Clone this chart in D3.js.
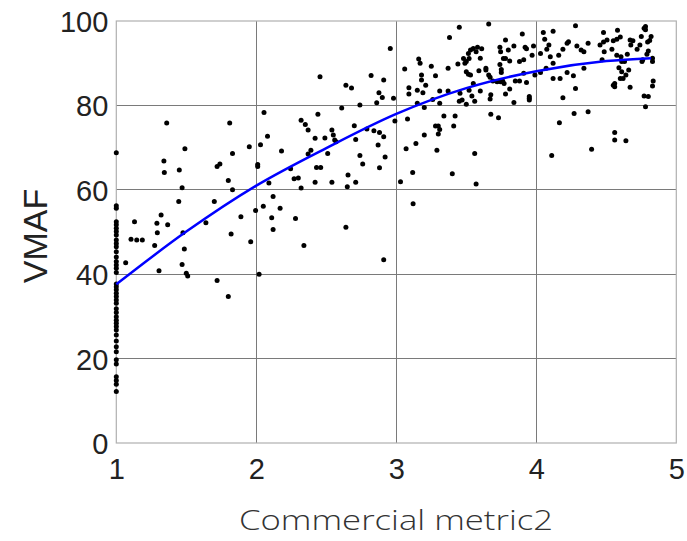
<!DOCTYPE html>
<html><head><meta charset="utf-8">
<script src="https://cdn.jsdelivr.net/npm/d3@7"></script>
<style>body{margin:0;background:#fff}svg{display:block}</style>
</head><body><div id="chart"></div>
<script>
const xTicks = [1, 2, 3, 4, 5];
const yTicks = [0, 20, 40, 60, 80, 100];
const xLabel = "Commercial metric2";
const yLabel = "VMAF";

// column of points at metric2 = 1
const colVmaf = [68.8,56.2,55.6,52.4,51.7,50.9,50.1,49.3,48.1,47.3,46.5,45.3,44.1,43.0,42.2,41.4,40.4,37.7,37.0,36.3,35.5,34.7,33.9,33.1,31.8,30.9,29.9,29.1,28.4,27.6,26.8,25.6,24.2,22.8,21.6,19.7,18.7,15.7,14.8,13.9,12.2];

const pointsA = [[1.067,42.7],[1.13,52.4],[1.105,48.3],[1.146,48.1],[1.186,48.1],[1.36,75.8],[1.34,66.8],[1.343,64.1],[1.32,54.0],[1.29,52.1],[1.367,51.7],[1.293,49.8],[1.274,46.8],[1.305,40.8],[1.49,69.7],[1.45,64.7],[1.47,60.5],[1.446,57.2],[1.476,49.8],[1.486,46.0],[1.47,42.3],[1.50,40.2],[1.51,39.6],[1.72,38.5],[1.80,34.7],[1.81,75.8],[1.83,68.6],[1.72,65.5],[1.74,66.1],[1.80,62.2],[1.83,60.0],[1.70,57.2],[1.64,52.2],[1.82,49.5],[2.02,40.0]];

const pointsB = [[2.455,86.8],[2.82,87.1],[2.64,84.8],[2.68,84.1],[2.74,80.1],[2.61,79.4],[2.055,78.3],[2.44,77.9],[2.32,76.5],[2.35,75.5],[2.37,74.2],[2.54,74.2],[2.55,73.0],[2.56,71.8],[2.57,71.4],[2.70,75.2],[2.71,71.9],[2.79,74.4],[2.84,74.0],[2.08,72.7],[2.03,70.7],[1.95,70.2],[2.42,72.2],[2.49,72.3],[2.39,69.4],[2.37,68.5],[2.51,68.6],[2.18,69.2],[2.74,68.1],[2.76,66.1],[2.01,66.0],[2.01,65.5],[2.245,65.0],[2.43,65.3],[2.46,65.3],[2.655,63.5],[2.65,60.7],[2.71,61.8],[2.54,61.8],[2.42,61.8],[2.27,62.6],[2.30,62.8],[2.32,60.4],[2.09,61.6],[2.12,58.4],[2.05,56.1],[2.17,55.6],[1.995,55.1],[1.89,53.6],[2.11,53.4],[2.28,53.2],[2.12,50.6],[2.64,51.1],[1.96,47.7],[2.34,46.8],[2.91,43.4],[3.117,64.1],[3.03,61.9],[3.40,63.8],[3.57,61.4],[3.12,56.7],[2.88,65.2]];

const pointsC = [[2.957,93.5],[2.91,86.0],[2.876,83.0],[2.90,81.9],[2.86,80.6],[2.98,81.7],[2.99,76.3],[2.88,73.6],[2.91,72.6],[2.87,70.6],[2.92,67.8],[3.45,98.5],[3.66,99.3],[3.38,96.1],[3.06,88.6],[3.16,91.0],[3.17,90.0],[3.25,89.3],[3.18,87.2],[3.28,87.0],[3.18,86.0],[3.09,84.2],[3.15,83.6],[3.21,84.8],[3.19,83.0],[3.09,82.7],[3.31,83.4],[3.37,88.8],[3.44,89.8],[3.37,83.4],[3.26,81.4],[3.31,80.5],[3.15,80.5],[3.20,79.5],[3.08,76.8],[3.34,77.5],[3.42,77.5],[3.28,75.1],[3.30,75.1],[3.31,74.3],[3.41,75.1],[3.30,73.2],[3.20,73.0],[3.14,71.0],[3.07,69.7],[3.29,69.4],[3.56,68.6],[3.455,82.9],[3.45,81.0],[3.47,81.3],[3.50,80.3],[3.52,83.6],[3.54,82.2],[3.56,81.0],[3.60,83.4],[3.55,85.2],[3.515,87.4],[3.53,87.2],[3.50,88.0],[3.59,88.2],[3.64,88.8],[3.64,88.4],[3.66,87.2],[3.67,86.7],[3.69,85.8],[3.48,91.1],[3.50,90.4],[3.49,90.0],[3.52,91.1],[3.53,93.1],[3.55,93.5],[3.58,93.8],[3.61,93.4],[3.60,91.2],[3.57,92.7],[3.515,92.3],[3.74,93.8],[3.745,92.7],[3.78,95.5],[3.80,93.1],[3.84,94.1],[3.765,91.1],[3.78,91.1],[3.81,90.5],[3.74,89.7],[3.75,88.5],[3.75,87.8],[3.76,85.8],[3.745,85.6],[3.77,85.2],[3.72,85.6],[3.81,83.9],[3.78,82.7],[3.85,85.8],[3.88,85.8],[3.90,96.9],[3.92,93.8],[3.93,93.4],[3.91,90.8],[3.88,90.4],[3.91,87.6],[3.93,85.4],[3.95,81.7],[3.84,80.7],[3.675,82.5],[3.67,81.5],[3.675,77.9],[3.73,77.1]];

const pointsD = [[4.28,98.9],[4.05,97.3],[4.12,97.6],[4.06,95.7],[4.09,94.3],[4.075,93.3],[4.03,92.3],[3.98,94.1],[3.97,91.9],[4.10,91.5],[4.16,91.9],[4.19,93.3],[4.22,94.7],[4.23,95.1],[4.12,90.0],[4.07,88.8],[3.99,87.2],[4.03,87.8],[3.95,82.1],[3.95,81.3],[4.12,86.4],[4.17,86.4],[4.22,87.8],[4.265,87.0],[4.28,84.0],[4.19,81.8],[4.29,94.1],[4.32,93.1],[4.34,92.7],[4.37,94.7],[4.34,88.8],[4.48,97.3],[4.58,97.8],[4.455,94.3],[4.48,95.0],[4.505,95.5],[4.485,92.7],[4.54,93.3],[4.55,95.3],[4.575,95.7],[4.60,96.2],[4.47,90.8],[4.575,91.9],[4.605,91.5],[4.61,90.4],[4.63,90.4],[4.59,88.9],[4.61,88.0],[4.64,87.2],[4.62,86.4],[4.60,86.4],[4.66,88.4],[4.65,92.1],[4.56,85.2],[4.55,84.8],[4.56,84.4],[4.67,84.3],[4.67,95.5],[4.69,95.3],[4.675,94.3],[4.72,93.3],[4.74,94.3],[4.75,96.3],[4.77,98.3],[4.78,98.7],[4.78,97.9],[4.795,95.0],[4.81,95.4],[4.82,96.3],[4.80,92.9],[4.79,92.1],[4.76,90.8],[4.755,90.4],[4.83,91.2],[4.83,90.4],[4.835,85.8],[4.83,84.6],[4.77,82.2],[4.80,82.1],[4.78,79.7],[4.27,78.1],[4.37,78.5],[4.165,75.9],[4.11,68.1],[4.395,69.6],[4.56,73.6],[4.56,71.8],[4.64,71.6]];

// fitted curve
const fitX = [1, 1.5, 2, 2.5, 3, 3.5, 4, 4.5, 4.82];
const fitY = [37.6, 50.1, 61.0, 69.9, 78.0, 84.1, 88.1, 90.5, 91.2];

const W = 687, H = 541;
const L = 116.3, R = 676.3, T = 21, B = 443;

const points = colVmaf.map(v => [1, v]).concat(pointsA, pointsB, pointsC, pointsD);

const svg = d3.select("#chart").append("svg").attr("width", W).attr("height", H);
const x = d3.scaleLinear().domain([1, 5]).range([L, R]);
const y = d3.scaleLinear().domain([0, 100]).range([B, T]);

// grid
const grid = svg.append("g");
grid.selectAll("line.v").data(xTicks.slice(1, -1)).join("line")
  .attr("x1", d => x(d)).attr("x2", d => x(d)).attr("y1", T).attr("y2", B)
  .attr("stroke", "#7a7a7a").attr("stroke-width", 1).attr("shape-rendering", "crispEdges");
grid.selectAll("line.h").data(yTicks.slice(1, -1)).join("line")
  .attr("y1", d => y(d)).attr("y2", d => y(d)).attr("x1", L).attr("x2", R)
  .attr("stroke", "#7a7a7a").attr("stroke-width", 1).attr("shape-rendering", "crispEdges");
svg.append("rect").attr("x", L).attr("y", T).attr("width", R - L).attr("height", B - T)
  .attr("fill", "none").attr("stroke", "#b0b0b0").attr("stroke-width", 1.2);

// axes labels via d3 axes (no tick lines)
const xAxis = svg.append("g").attr("transform", `translate(0,${B})`)
  .call(d3.axisBottom(x).tickValues(xTicks).tickFormat(d3.format("d")).tickSize(0).tickPadding(10));
const yAxis = svg.append("g").attr("transform", `translate(${L},0)`)
  .call(d3.axisLeft(y).tickValues(yTicks).tickFormat(d3.format("d")).tickSize(0).tickPadding(8));
[xAxis, yAxis].forEach(a => {
  a.select(".domain").remove();
  a.selectAll("text").attr("font-family", "Liberation Sans, Arial, sans-serif")
    .attr("font-size", 29).attr("fill", "#222");
});
xAxis.selectAll("text").attr("dy", "0.9em");
yAxis.selectAll("text").attr("dy", "0.36em");

// points
svg.append("g").selectAll("circle").data(points).join("circle")
  .attr("cx", d => x(d[0])).attr("cy", d => y(d[1])).attr("r", 2.5).attr("fill", "#000");

// fit curve
const line = d3.line().x(d => x(d[0])).y(d => y(d[1])).curve(d3.curveMonotoneX);
svg.append("path").datum(fitX.map((v, i) => [v, fitY[i]]))
  .attr("d", line).attr("fill", "none").attr("stroke", "#0000ff").attr("stroke-width", 2.5);

// titles
svg.append("text").attr("x", 396).attr("y", 530).attr("text-anchor", "middle")
  .attr("font-family", "Open Sans, sans-serif").attr("font-weight", 300)
  .attr("font-size", 28).attr("fill", "#333")
  .attr("textLength", 314).attr("lengthAdjust", "spacingAndGlyphs").text(xLabel);
svg.append("text").attr("transform", `translate(47,236) rotate(-90)`).attr("text-anchor", "middle")
  .attr("font-family", "Liberation Sans, Arial, sans-serif")
  .attr("font-size", 34).attr("fill", "#222").text(yLabel);
</script></body></html>
